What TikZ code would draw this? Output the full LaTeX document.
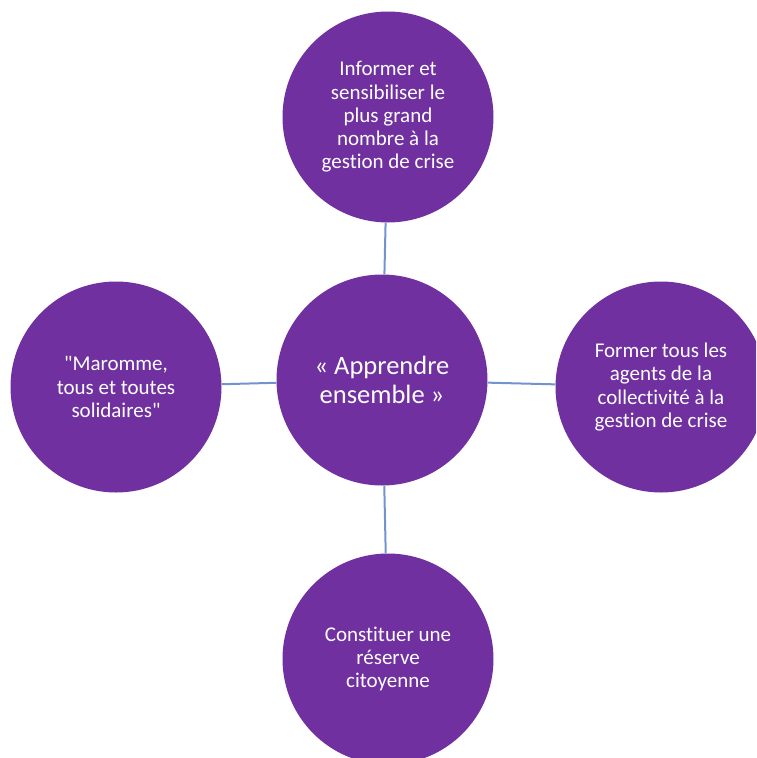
\documentclass[tikz,border=0pt]{standalone}
\usepackage{fontspec}
\setmainfont{Carlito}[Ligatures={TeXOff,NoCommon}]
\definecolor{bubblepurple}{RGB}{112,48,160}
\definecolor{linkblue}{RGB}{114,147,208}
\tikzset{
  bubble/.style={circle, fill=bubblepurple, text=white, minimum size=211pt, inner sep=0pt, align=center, font=\fontsize{21pt}{23.3pt}\selectfont},
  link/.style={draw=linkblue, line width=2pt}
}
\begin{document}
\begin{tikzpicture}[x=1pt, y=-1pt]
        \useasboundingbox (0,0) rectangle (756,758);
        \clip (0,0) rectangle (756,758);

        \node (ctr) at (382,380) [bubble, font=\fontsize{26.5pt}{29pt}\selectfont] {«~Apprendre\\ensemble~»};
        \node (top) at (388,117) [bubble] {Informer et\\sensibiliser le\\plus grand\\nombre à la\\gestion de crise};
        \node (lft) at (116,387) [bubble] {"Maromme,\\tous et toutes\\solidaires"};
        \node (rgt) at (661,387) [bubble] {Former tous les\\agents de la\\collectivité à la\\gestion de crise};
        \node (bot) at (388,659) [bubble] {Constituer une\\réserve\\citoyenne};

        \draw[link] (ctr) -- (top);
        \draw[link] (ctr) -- (lft);
        \draw[link] (ctr) -- (rgt);
        \draw[link] (ctr) -- (bot);
        \end{tikzpicture}
\end{document}
